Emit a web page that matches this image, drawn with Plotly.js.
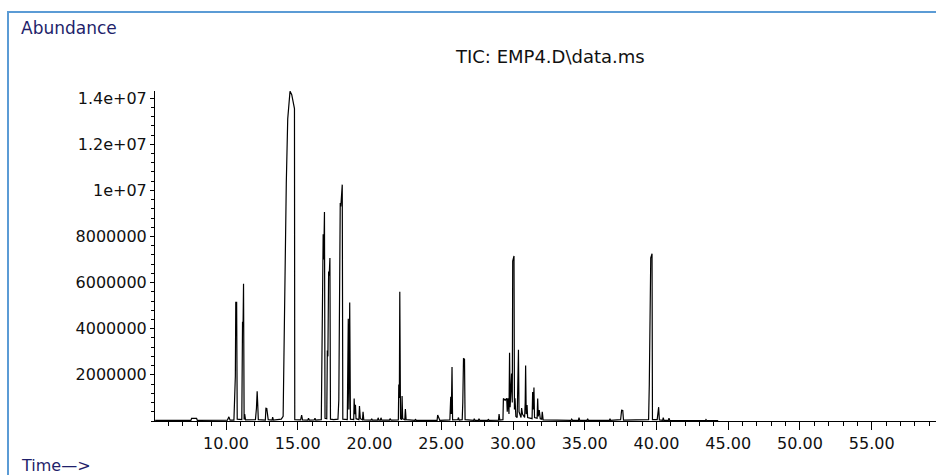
<!DOCTYPE html>
<html>
<head>
<meta charset="utf-8">
<script src="https://cdn.plot.ly/plotly-3.0.1.min.js"></script>
<style>
  html, body { margin: 0; padding: 0; background: #fff; }
  #wrap { position: relative; width: 936px; height: 475px; overflow: hidden; }
  #chart { width: 936px; height: 475px; }
  #frame { position: absolute; left: 7px; top: 11px; right: -4px; bottom: -4px;
           border-left: 2px solid #5b9bd5; border-top: 2px solid #5b9bd5; pointer-events: none; }
</style>
</head>
<body>
<div id="wrap">
  <div id="chart"></div>
  <div id="frame"></div>
</div>
<script>
// Retention time (min)
const times = [
  5.06, 6.0, 7.55, 7.6, 7.95, 8.0, 9.0, 10.1, 10.2, 10.28,
  10.55, 10.6, 10.65, 10.68, 10.74, 10.78, 11.1, 11.15, 11.19, 11.22,
  11.26, 11.3, 11.36, 12.05, 12.12, 12.17, 12.21, 12.25, 12.74, 12.78,
  12.84, 12.89, 12.94, 13.21, 13.25, 13.3, 13.85, 13.98, 14.08, 14.2,
  14.3, 14.42, 14.46, 14.58, 14.68, 14.77, 14.79, 15.2, 15.27, 15.33,
  15.7, 15.75, 15.8, 16.15, 16.2, 16.25, 16.64, 16.68, 16.71, 16.74,
  16.77, 16.81, 16.86, 16.9, 17.02, 17.06, 17.1, 17.15, 17.19, 17.24,
  17.28, 17.5, 17.8, 17.86, 17.91, 17.96, 18.0, 18.1, 18.14, 18.45,
  18.52, 18.56, 18.62, 18.67, 18.9, 18.93, 18.97, 19.02, 19.06, 19.26,
  19.3, 19.36, 19.51, 19.55, 19.6, 20.11, 20.15, 20.2, 20.56, 20.6,
  20.65, 20.76, 20.8, 20.85, 21.39, 21.43, 21.5, 22.01, 22.04, 22.08,
  22.11, 22.16, 22.24, 22.27, 22.31, 22.46, 22.5, 22.55, 23.16, 23.2,
  23.25, 24.71, 24.75, 24.85, 24.9, 25.6, 25.66, 25.7, 25.75, 25.79,
  26.15, 26.2, 26.25, 26.46, 26.5, 26.55, 26.62, 26.66, 27.26, 27.3,
  27.35, 27.59, 27.63, 27.68, 28.24, 28.28, 28.33, 28.99, 29.03, 29.08,
  29.3, 29.33, 29.45, 29.56, 29.6, 29.65, 29.72, 29.76, 29.8, 29.9,
  29.95, 29.98, 30.07, 30.1, 30.14, 30.2, 30.29, 30.33, 30.38, 30.42,
  30.56, 30.6, 30.66, 30.81, 30.85, 30.88, 30.92, 30.98, 31.02, 31.33,
  31.37, 31.42, 31.46, 31.5, 31.68, 31.72, 31.76, 31.83, 31.9, 32.0,
  32.04, 32.1, 34.05, 34.09, 34.15, 34.56, 34.6, 34.65, 35.16, 35.2,
  35.25, 36.72, 36.76, 36.8, 37.5, 37.57, 37.65, 37.7, 39.45, 39.5,
  39.6, 39.69, 39.72, 40.05, 40.08, 40.15, 40.2, 40.43, 40.47, 40.52,
  40.83, 40.87, 40.92, 43.41, 43.45, 43.5, 44.3
];
// Total ion current abundance
const abundance = [
  30000, 25000, 25000, 110000, 110000, 25000, 30000, 40000, 180000, 40000,
  40000, 1900000, 1950000, 5150000, 5150000, 80000, 60000, 4300000, 4250000, 5950000,
  60000, 300000, 50000, 60000, 550000, 1290000, 730000, 60000, 40000, 550000,
  540000, 200000, 60000, 40000, 170000, 40000, 80000, 200000, 5100000, 10300000,
  13100000, 14200000, 14300000, 14150000, 13800000, 13550000, 60000, 50000, 260000, 50000,
  40000, 120000, 40000, 50000, 120000, 40000, 60000, 2600000, 6000000, 5900000,
  8100000, 7000000, 9060000, 120000, 100000, 3060000, 2800000, 6480000, 6300000, 7070000,
  80000, 60000, 80000, 900000, 6300000, 9450000, 9300000, 10250000, 80000, 60000,
  4430000, 500000, 5140000, 80000, 60000, 980000, 300000, 700000, 100000, 60000,
  650000, 100000, 50000, 400000, 50000, 40000, 100000, 40000, 40000, 140000,
  40000, 40000, 140000, 40000, 40000, 100000, 40000, 50000, 1580000, 1000000,
  5600000, 100000, 60000, 1080000, 100000, 50000, 520000, 60000, 30000, 80000,
  30000, 30000, 260000, 150000, 30000, 50000, 1050000, 300000, 2340000, 50000,
  60000, 150000, 40000, 60000, 780000, 2700000, 2680000, 60000, 30000, 100000,
  30000, 30000, 100000, 30000, 30000, 80000, 30000, 40000, 300000, 40000,
  60000, 980000, 900000, 980000, 400000, 980000, 300000, 2960000, 600000, 2060000,
  800000, 6940000, 7160000, 500000, 990000, 200000, 150000, 1380000, 3090000, 400000,
  150000, 560000, 300000, 150000, 800000, 2410000, 300000, 690000, 150000, 100000,
  1260000, 500000, 1450000, 150000, 120000, 980000, 200000, 470000, 100000, 80000,
  400000, 50000, 30000, 80000, 30000, 30000, 150000, 30000, 30000, 100000,
  30000, 30000, 100000, 30000, 60000, 470000, 460000, 40000, 60000, 1600000,
  7080000, 7250000, 60000, 60000, 340000, 600000, 50000, 30000, 150000, 30000,
  30000, 120000, 30000, 20000, 60000, 20000, 20000
];
// Axis ticks
const yTickVals = [2000000, 4000000, 6000000, 8000000, 10000000, 12000000, 14000000];
const yTickText = ["2000000", "4000000", "6000000", "8000000", "1e+07", "1.2e+07", "1.4e+07"];
const xTickVals = [10, 15, 20, 25, 30, 35, 40, 45, 50, 55];
const xTickText = ["10.00", "15.00", "20.00", "25.00", "30.00", "35.00", "40.00", "45.00", "50.00", "55.00"];

const FONT = "DejaVu Sans, Arial, sans-serif";
const W = 936, H = 475, L = 155, R = 0, T = 91, B = 54;
const pw = W - L - R, ph = H - T - B;
const px = (x) => (x - L) / pw;
const py = (y) => (H - B - y) / ph;

const trace = {
  x: times, y: abundance, type: "scatter", mode: "lines",
  line: { color: "#000", width: 1.2 }, hoverinfo: "skip", showlegend: false
};

const layout = {
  width: W, height: H,
  margin: { l: L, r: R, t: T, b: B, pad: 0 },
  paper_bgcolor: "#fff", plot_bgcolor: "#fff",
  font: { family: FONT, size: 16, color: "#111" },
  showlegend: false,
  xaxis: {
    range: [5.05, 59.48], showgrid: false, zeroline: false,
    showline: true, linecolor: "#000", linewidth: 1,
    tickmode: "array", tickvals: xTickVals, ticktext: xTickText,
    ticks: "outside", ticklen: 8, tickwidth: 1, tickcolor: "#000",
    tickfont: { family: FONT, size: 16, color: "#111" },
    minor: { dtick: 1, tick0: 0, ticks: "outside", ticklen: 4, tickwidth: 1, tickcolor: "#000", showgrid: false }
  },
  yaxis: {
    range: [0, 14310000], showgrid: false, zeroline: false,
    showline: true, linecolor: "#000", linewidth: 1,
    tickmode: "array", tickvals: yTickVals, ticktext: yTickText,
    ticks: "outside", ticklen: 4, tickwidth: 1, tickcolor: "#000",
    tickfont: { family: FONT, size: 16, color: "#111" },
    minor: { dtick: 400000, tick0: 0, ticks: "outside", ticklen: 3, tickwidth: 1, tickcolor: "#000", showgrid: false }
  },
  annotations: [
    { text: "Abundance", xref: "paper", yref: "paper", x: px(19), y: py(28),
      xanchor: "left", yanchor: "middle", showarrow: false,
      font: { family: FONT, size: 17, color: "#1f1f6b" } },
    { text: "TIC: EMP4.D\\data.ms", xref: "paper", yref: "paper", x: px(550), y: py(56),
      xanchor: "center", yanchor: "middle", showarrow: false,
      font: { family: FONT, size: 18, color: "#111" } },
    { text: "Time—>", xref: "paper", yref: "paper", x: px(19), y: py(466),
      xanchor: "left", yanchor: "middle", showarrow: false,
      font: { family: FONT, size: 16, color: "#1f1f6b" } }
  ]
};

Plotly.newPlot("chart", [trace], layout, { staticPlot: true, displayModeBar: false });
</script>
</body>
</html>
